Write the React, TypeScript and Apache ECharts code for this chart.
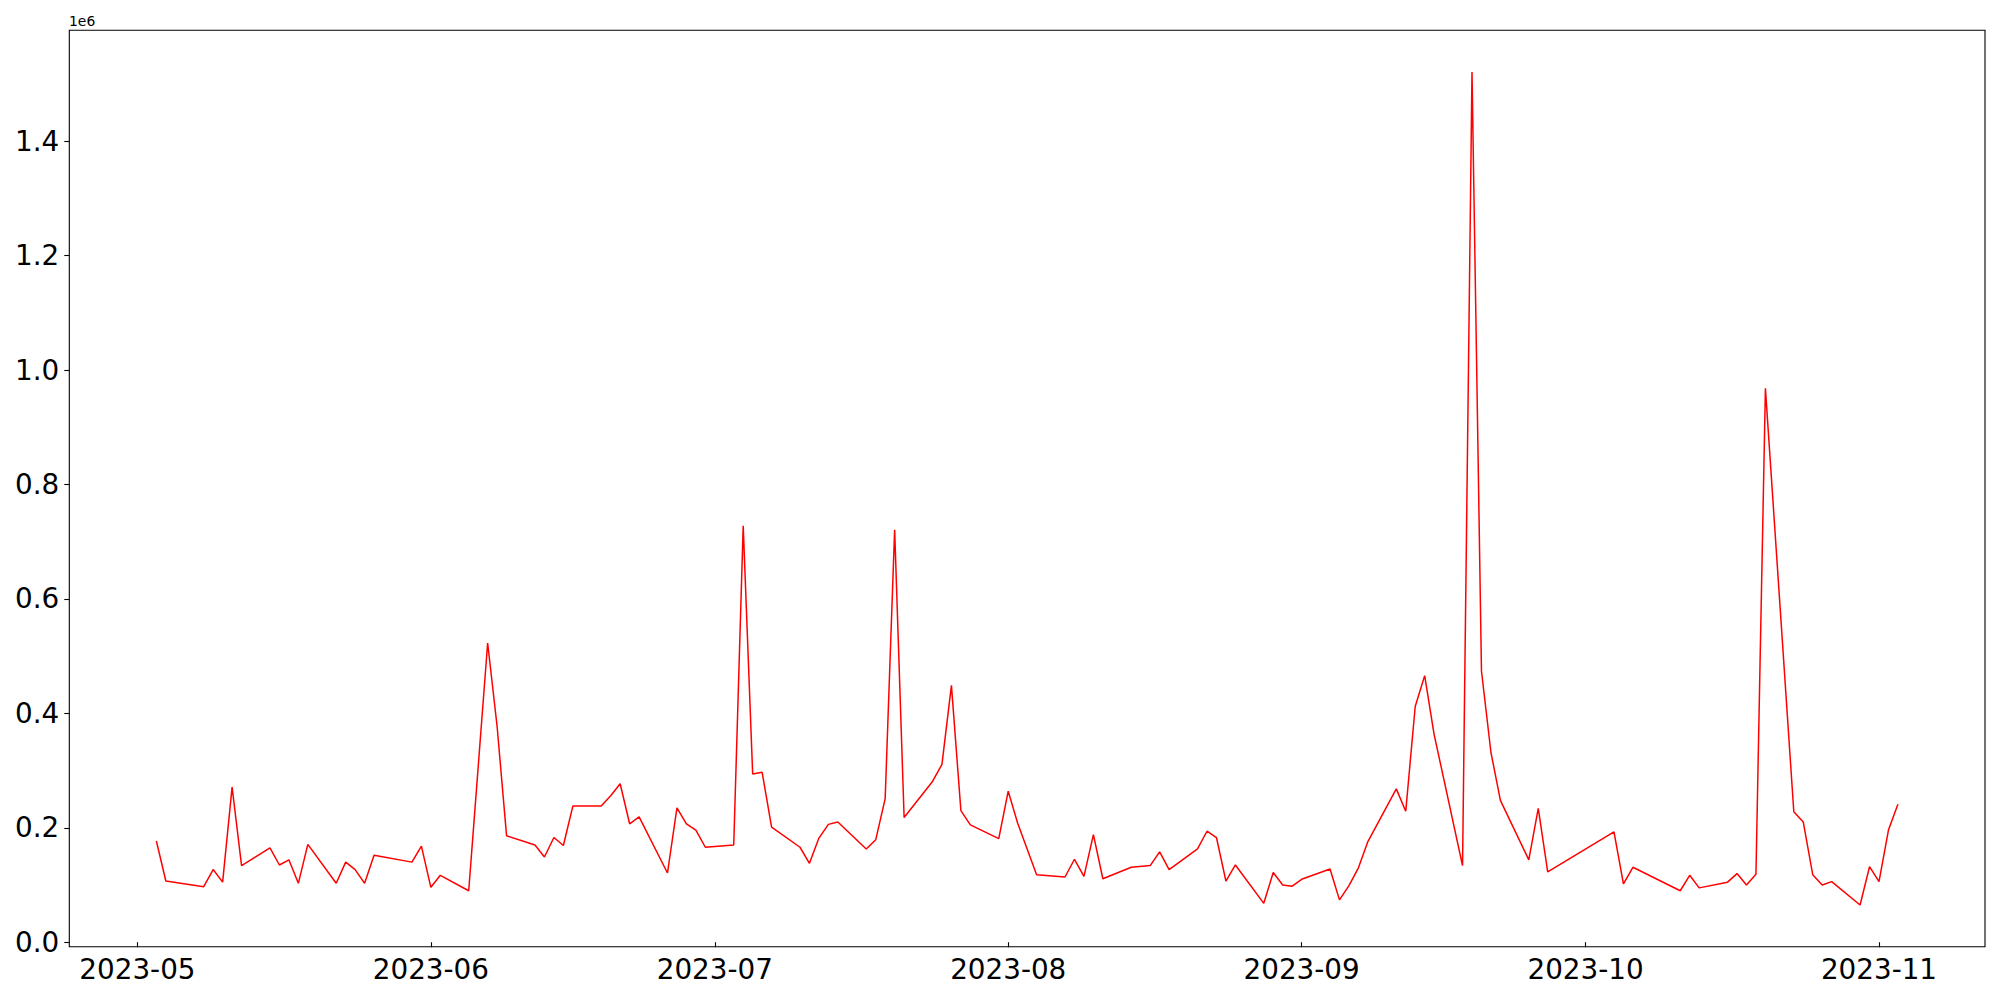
import React, { useEffect, useRef } from "react";
import * as echarts from "echarts";

const dates: string[] = [
  "2023-05-03", "2023-05-04", "2023-05-08", "2023-05-09", "2023-05-10", "2023-05-11", "2023-05-12",
  "2023-05-15", "2023-05-16", "2023-05-17", "2023-05-18", "2023-05-19", "2023-05-22", "2023-05-23",
  "2023-05-24", "2023-05-25", "2023-05-26", "2023-05-30", "2023-05-31", "2023-06-01", "2023-06-02",
  "2023-06-05", "2023-06-07", "2023-06-08", "2023-06-09", "2023-06-12", "2023-06-13", "2023-06-14",
  "2023-06-15", "2023-06-16", "2023-06-19", "2023-06-20", "2023-06-21", "2023-06-22", "2023-06-23",
  "2023-06-26", "2023-06-27", "2023-06-28", "2023-06-29", "2023-06-30", "2023-07-03", "2023-07-04",
  "2023-07-05", "2023-07-06", "2023-07-07", "2023-07-10", "2023-07-11", "2023-07-12", "2023-07-13",
  "2023-07-14", "2023-07-17", "2023-07-18", "2023-07-19", "2023-07-20", "2023-07-21", "2023-07-24",
  "2023-07-25", "2023-07-26", "2023-07-27", "2023-07-28", "2023-07-31", "2023-08-01", "2023-08-02",
  "2023-08-04", "2023-08-07", "2023-08-08", "2023-08-09", "2023-08-10", "2023-08-11", "2023-08-14",
  "2023-08-16", "2023-08-17", "2023-08-18", "2023-08-21", "2023-08-22", "2023-08-23", "2023-08-24",
  "2023-08-25", "2023-08-28", "2023-08-29", "2023-08-30", "2023-08-31", "2023-09-01", "2023-09-04",
  "2023-09-05", "2023-09-06", "2023-09-07", "2023-09-08", "2023-09-11", "2023-09-12", "2023-09-13",
  "2023-09-14", "2023-09-15", "2023-09-18", "2023-09-19", "2023-09-20", "2023-09-21", "2023-09-22",
  "2023-09-25", "2023-09-26", "2023-09-27", "2023-10-04", "2023-10-05", "2023-10-06", "2023-10-11",
  "2023-10-12", "2023-10-13", "2023-10-16", "2023-10-17", "2023-10-18", "2023-10-19", "2023-10-20",
  "2023-10-23", "2023-10-24", "2023-10-25", "2023-10-26", "2023-10-27", "2023-10-30", "2023-10-31",
  "2023-11-01", "2023-11-02", "2023-11-03",
];

const values: number[] = [
  177000, 107000, 97000, 127000, 105000, 271000, 134000,
  165000, 135000, 144000, 103000, 171000, 103000, 140000,
  127000, 103000, 152000, 140000, 168000, 96000, 117000,
  90000, 523000, 377000, 186000, 170000, 149000, 183000,
  169000, 238000, 238000, 256000, 277000, 207000, 219000,
  121000, 235000, 207000, 196000, 166000, 170000, 728000,
  294000, 297000, 201000, 166000, 138000, 182000, 206000,
  210000, 163000, 179000, 251000, 721000, 218000, 281000,
  311000, 449000, 230000, 205000, 181000, 264000, 208000,
  118000, 114000, 145000, 115000, 188000, 111000, 131000,
  134000, 158000, 127000, 163000, 194000, 183000, 107000,
  135000, 68000, 122000, 100000, 98000, 110000, 128000,
  74000, 99000, 130000, 176000, 268000, 229000, 412000,
  466000, 363000, 134000, 1521000, 474000, 332000, 248000,
  144000, 234000, 123000, 193000, 102000, 131000, 90000,
  117000, 95000, 105000, 120000, 100000, 119000, 968000,
  228000, 210000, 118000, 100000, 106000, 65000, 132000,
  106000, 196000, 241000,
];

const xTickLabels: string[] = [
  "2023-05-01", "2023-06-01", "2023-07-01", "2023-08-01", "2023-09-01", "2023-10-01", "2023-11-01",
];

const yTickValues: number[] = [0, 200000, 400000, 600000, 800000, 1000000, 1200000, 1400000];

function toTs(s: string): number {
  const [y, m, d] = s.split("-").map(Number);
  return Date.UTC(y, m - 1, d);
}

const FONT = "DejaVu Sans";

export default function App() {
  const ref = useRef<HTMLDivElement>(null);

  useEffect(() => {
    if (!ref.current) return;
    const chart = echarts.init(ref.current, null, { renderer: "svg" });

    const ts = dates.map(toTs);
    const xSpan = ts[ts.length - 1] - ts[0];
    const xMin = ts[0] - 0.05 * xSpan;
    const xMax = ts[ts.length - 1] + 0.05 * xSpan;
    const vMin = Math.min(...values);
    const vMax = Math.max(...values);
    const ySpan = vMax - vMin;
    const yMin = vMin - 0.05 * ySpan;
    const yMax = vMax + 0.05 * ySpan;
    const xTicks = xTickLabels.map(toTs);

    const pad = (n: number) => (n < 10 ? "0" + n : "" + n);

    chart.setOption({
      animation: false,
      backgroundColor: "#ffffff",
      grid: {
        left: 69.3,
        right: 15,
        top: 30.3,
        bottom: 53.3,
        show: true,
        borderColor: "#000000",
        borderWidth: 1.1,
        backgroundColor: "transparent",
        containLabel: false,
      },
      xAxis: {
        type: "value",
        min: xMin,
        max: xMax,
        scale: true,
        axisLine: { show: false },
        splitLine: { show: false },
        axisTick: {
          show: true,
          length: 5,
          lineStyle: { color: "#000000", width: 1.1 },
          customValues: xTicks,
        },
        axisLabel: {
          show: true,
          customValues: xTicks,
          fontSize: 27.8,
          fontFamily: FONT,
          color: "#000000",
          margin: 9,
          formatter: (v: number) => {
            const d = new Date(v);
            return d.getUTCFullYear() + "-" + pad(d.getUTCMonth() + 1);
          },
        },
      },
      yAxis: {
        type: "value",
        min: yMin,
        max: yMax,
        axisLine: { show: false },
        splitLine: { show: false },
        axisTick: {
          show: true,
          length: 5,
          lineStyle: { color: "#000000", width: 1.1 },
          customValues: yTickValues,
        },
        axisLabel: {
          show: true,
          customValues: yTickValues,
          fontSize: 27.8,
          fontFamily: FONT,
          color: "#000000",
          margin: 10,
          formatter: (v: number) => (v / 1e6).toFixed(1),
        },
      },
      graphic: [
        {
          type: "text",
          left: 69,
          top: 14,
          style: {
            text: "1e6",
            font: "13.9px 'DejaVu Sans'",
            fill: "#000000",
          },
        },
      ],
      series: [
        {
          type: "line",
          data: ts.map((t, i) => [t, values[i]]),
          showSymbol: false,
          symbol: "none",
          lineStyle: { color: "#ff0000", width: 1.5 },
          itemStyle: { color: "#ff0000" },
        },
      ],
    });

    return () => chart.dispose();
  }, []);

  return (
    <div
      ref={ref}
      style={{ position: "fixed", left: 0, top: 0, width: 2000, height: 1000, background: "#ffffff" }}
    />
  );
}
